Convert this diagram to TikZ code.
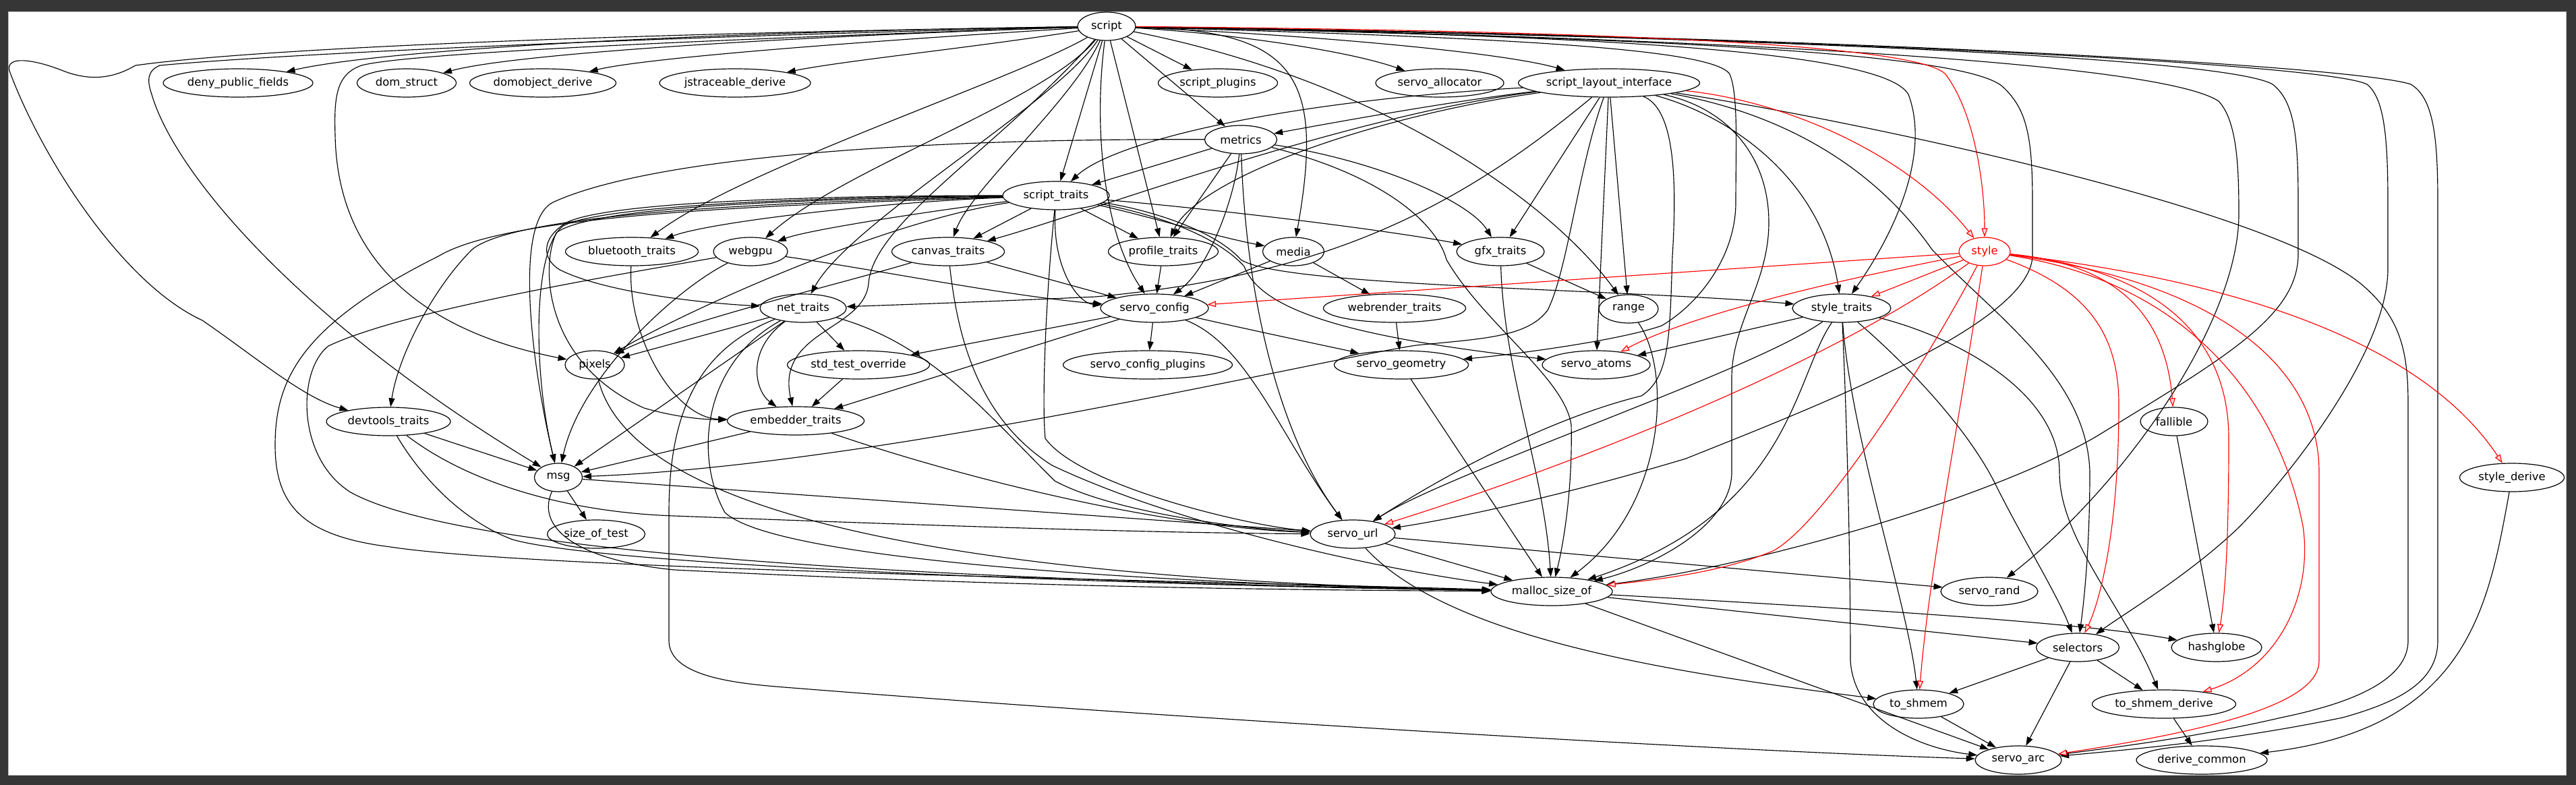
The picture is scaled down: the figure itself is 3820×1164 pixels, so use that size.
\documentclass[tikz,border=0pt]{standalone}
\usepackage{fontspec}
\setmainfont{DejaVu Sans}
\usetikzlibrary{shapes.geometric,arrows.meta}
\definecolor{framegray}{RGB}{54,54,54}
\newcommand\nodefont{\fontsize{16.4pt}{19pt}\selectfont}
\begin{document}
\begin{tikzpicture}[x=1pt,y=-1pt,
 crate/.style={draw, ellipse, line width=1.2pt, inner sep=0pt, minimum height=42pt, font=\nodefont},
 rcrate/.style={crate, draw=red, text=red},
 dep/.style={line width=1.15pt, -{Triangle[length=13pt,width=9pt]}},
 rdep/.style={draw=red, line width=1.15pt, -{Triangle[open,length=13pt,width=9pt,fill=red!15]}}]
\useasboundingbox (0,0) rectangle (3820,1164);
\fill[framegray] (0,0) rectangle (3820,1164);
\fill[white] (12,18) rectangle (3805,1149);
\draw[gray!50, line width=1pt] (12,18) rectangle (3805,1149);

% nodes
\node[crate,minimum width=86pt] (script) at (1641,39) {script};
\node[crate,minimum width=222pt] (dpf) at (353,123) {deny\_public\_fields};
\node[crate,minimum width=147pt] (ds) at (603,123) {dom\_struct};
\node[crate,minimum width=217pt] (dod) at (805,123) {domobject\_derive};
\node[crate,minimum width=224pt] (jsd) at (1090,123) {jstraceable\_derive};
\node[crate,minimum width=177pt] (splug) at (1806,123) {script\_plugins};
\node[crate,minimum width=190pt] (salloc) at (2135,123) {servo\_allocator};
\node[crate,minimum width=269pt] (sli) at (2386,123) {script\_layout\_interface};
\node[crate,minimum width=107pt] (metrics) at (1840,207) {metrics};
\node[crate,minimum width=158pt] (st) at (1566,290) {script\_traits};
\node[crate,minimum width=197pt] (bt) at (937,373) {bluetooth\_traits};
\node[crate,minimum width=110pt] (webgpu) at (1113,373) {webgpu};
\node[crate,minimum width=167pt] (canvas) at (1406,373) {canvas\_traits};
\node[crate,minimum width=163pt] (prof) at (1725,373) {profile\_traits};
\node[crate,minimum width=91pt] (media) at (1918,373) {media};
\node[crate,minimum width=130pt] (gfx) at (2225,373) {gfx\_traits};
\node[rcrate,minimum width=76pt] (style) at (2943,373) {style};
\node[crate,minimum width=128pt] (net) at (1191,457) {net\_traits};
\node[crate,minimum width=160pt] (sconf) at (1712,457) {servo\_config};
\node[crate,minimum width=211pt] (wrt) at (2068,457) {webrender\_traits};
\node[crate,minimum width=88pt] (range) at (2415,458) {range};
\node[crate,minimum width=146pt] (stt) at (2731,457) {style\_traits};
\node[crate,minimum width=88pt] (pixels) at (882,541) {pixels};
\node[crate,minimum width=211pt] (sto) at (1273,541) {std\_test\_override};
\node[crate,minimum width=251pt] (scp) at (1702,541) {servo\_config\_plugins};
\node[crate,minimum width=199pt] (sgeo) at (2078,541) {servo\_geometry};
\node[crate,minimum width=160pt] (satoms) at (2367,541) {servo\_atoms};
\node[crate,minimum width=184pt] (devt) at (576,625) {devtools\_traits};
\node[crate,minimum width=203pt] (emb) at (1180,624) {embedder\_traits};
\node[crate,minimum width=100pt] (fallible) at (3224,625) {fallible};
\node[crate,minimum width=71pt] (msg) at (828,708) {msg};
\node[crate,minimum width=155pt] (sderive) at (3725,708) {style\_derive};
\node[crate,minimum width=145pt] (sot) at (884,792) {size\_of\_test};
\node[crate,minimum width=126pt] (surl) at (2006,792) {servo\_url};
\node[crate,minimum width=180pt] (malloc) at (2301,877) {malloc\_size\_of};
\node[crate,minimum width=144pt] (srand) at (2950,877) {servo\_rand};
\node[crate,minimum width=123pt] (selectors) at (3081,960) {selectors};
\node[crate,minimum width=134pt] (hashglobe) at (3287,960) {hashglobe};
\node[crate,minimum width=134pt] (toshmem) at (2845,1044) {to\_shmem};
\node[crate,minimum width=213pt] (tsd) at (3209,1044) {to\_shmem\_derive};
\node[crate,minimum width=128pt] (sarc) at (2993,1127) {servo\_arc};
\node[crate,minimum width=194pt] (dcommon) at (3265,1127) {derive\_common};

% script
\draw[dep] (script) .. controls (1000,48) and (560,75) .. (dpf);
\draw[dep] (script) .. controls (1150,55) and (760,80) .. (ds);
\draw[dep] (script) .. controls (1300,60) and (960,85) .. (dod);
\draw[dep] (script) .. controls (1450,70) and (1250,90) .. (jsd);
\draw[dep] (script) -- (splug);
\draw[dep] (script) .. controls (1800,48) and (1990,72) .. (salloc);
\draw[dep] (script) .. controls (1950,52) and (2230,78) .. (sli);
\draw[dep] (script) -- (metrics);
\draw[dep] (script) -- (st);
\draw[dep] (script) .. controls (1500,120) and (1100,250) .. (bt);
\draw[dep] (script) .. controls (1550,150) and (1250,250) .. (webgpu);
\draw[dep] (script) .. controls (1590,150) and (1440,280) .. (canvas);
\draw[dep] (script) -- (prof);
\draw[dep] (script) .. controls (1920,45) and (1965,110) .. (media);
\draw[dep] (script) .. controls (1570,150) and (1260,330) .. (net);
\draw[dep] (script) .. controls (1620,200) and (1640,350) .. (sconf);
\draw[dep] (script) .. controls (2050,120) and (2300,300) .. (range);
\draw[dep] (script) .. controls (900,50) and (380,72) .. (201,97) .. controls (175,112) and (140,124) .. (91,104) .. controls (50,88) and (8,82) .. (14,105) .. controls (60,230) and (180,420) .. (300,475) .. controls (380,530) and (450,590) .. (devt);
\draw[dep] (script) .. controls (950,55) and (420,80) .. (237,97) .. controls (218,105) and (218,120) .. (225,140) .. controls (260,260) and (450,480) .. (msg);
\draw[dep] (script) .. controls (1000,60) and (600,80) .. (536,97) .. controls (500,110) and (495,140) .. (497,200) .. controls (500,380) and (620,490) .. (pixels);
\draw[dep] (script) .. controls (1480,220) and (1295,330) .. (1288,420) .. controls (1282,490) and (1150,490) .. (emb);
\draw[dep] (script) .. controls (2300,52) and (2790,70) .. (2830,140) .. controls (2860,220) and (2820,330) .. (stt);
\draw[dep] (script) .. controls (2200,55) and (2540,70) .. (2565,110) .. controls (2578,140) and (2574,220) .. (2574,300) .. controls (2574,380) and (2520,450) .. (2464,483) .. controls (2400,505) and (2250,525) .. (sgeo);
\draw[dep] (script) .. controls (2400,55) and (2900,75) .. (2968,127) .. controls (3005,160) and (3014,200) .. (3014,300) -- (3014,380) .. controls (3010,480) and (2700,600) .. (2500,680) .. controls (2300,740) and (2150,770) .. (surl);
\draw[dep] (script) .. controls (2600,55) and (3300,85) .. (3370,125) .. controls (3402,150) and (3408,200) .. (3408,300) -- (3408,380) .. controls (3405,470) and (3300,530) .. (3109,647) .. controls (2950,740) and (2600,840) .. (malloc);
\draw[dep] (script) .. controls (2500,55) and (3200,90) .. (3290,150) .. controls (3318,180) and (3320,250) .. (3320,320) .. controls (3318,480) and (3150,720) .. (srand);
\draw[dep] (script) .. controls (2700,55) and (3450,95) .. (3510,125) .. controls (3535,145) and (3541,200) .. (3541,300) -- (3541,400) .. controls (3540,520) and (3400,700) .. (3322,780) .. controls (3250,850) and (3150,910) .. (selectors);
\draw[dep] (script) .. controls (2800,55) and (3500,100) .. (3575,125) .. controls (3608,145) and (3615,200) .. (3615,300) -- (3615,950) .. controls (3615,1010) and (3560,1040) .. (3474,1064) .. controls (3300,1100) and (3150,1112) .. (sarc);
\draw[rdep] (script) .. controls (2300,45) and (2840,62) .. (2885,110) .. controls (2930,170) and (2943,280) .. (style);

% script_layout_interface
\draw[dep] (sli) .. controls (2150,150) and (1960,185) .. (metrics);
\draw[dep] (sli) .. controls (1900,150) and (1650,210) .. (st);
\draw[dep] (sli) .. controls (2000,170) and (1600,320) .. (canvas);
\draw[dep] (sli) .. controls (2050,170) and (1780,260) .. (prof);
\draw[dep] (sli) -- (gfx);
\draw[dep] (sli) -- (range);
\draw[dep] (sli) -- (satoms);
\draw[dep] (sli) .. controls (2560,170) and (2700,260) .. (stt);
\draw[dep] (sli) .. controls (2150,320) and (1950,410) .. (1625,440) .. controls (1450,448) and (1330,452) .. (net);
\draw[dep] (sli) .. controls (2340,250) and (2325,400) .. (2295,460) .. controls (2265,500) and (2200,502) .. (2100,512) .. controls (1950,535) and (1300,690) .. (msg);
\draw[dep] (sli) .. controls (2480,160) and (2488,250) .. (2480,380) .. controls (2476,500) and (2476,560) .. (2434,587) .. controls (2300,620) and (2150,700) .. (surl);
\draw[dep] (sli) .. controls (2560,160) and (2623,230) .. (2623,330) .. controls (2623,420) and (2568,480) .. (2568,560) -- (2568,700) .. controls (2568,780) and (2450,840) .. (malloc);
\draw[dep] (sli) .. controls (2600,160) and (2760,220) .. (2865,370) .. controls (2960,470) and (3095,560) .. (3099,700) .. controls (3099,800) and (3092,880) .. (selectors);
\draw[dep] (sli) .. controls (2700,170) and (3350,300) .. (3500,420) .. controls (3560,470) and (3571,520) .. (3571,600) -- (3571,950) .. controls (3571,1020) and (3450,1050) .. (3383,1064) .. controls (3250,1095) and (3120,1110) .. (sarc);
\draw[rdep] (sli) .. controls (2650,150) and (2830,230) .. (style);

% metrics
\draw[dep] (metrics) -- (st);
\draw[dep] (metrics) -- (prof);
\draw[dep] (metrics) .. controls (2050,240) and (2180,300) .. (gfx);
\draw[dep] (metrics) .. controls (1830,300) and (1790,400) .. (sconf);
\draw[dep] (metrics) .. controls (1848,450) and (1900,650) .. (surl);
\draw[dep] (metrics) .. controls (2050,260) and (2130,330) .. (2145,385) .. controls (2200,480) and (2320,560) .. (2330,630) .. controls (2332,720) and (2320,800) .. (malloc);
\draw[dep] (metrics) .. controls (1300,205) and (950,240) .. (820,300) .. controls (760,330) and (790,550) .. (msg);

% script_traits
\draw[dep] (st) .. controls (1300,300) and (1050,330) .. (bt);
\draw[dep] (st) .. controls (1400,310) and (1200,340) .. (webgpu);
\draw[dep] (st) -- (canvas);
\draw[dep] (st) -- (prof);
\draw[dep] (st) .. controls (1700,320) and (1800,350) .. (media);
\draw[dep] (st) .. controls (1800,310) and (2050,340) .. (gfx);
\draw[dep] (st) .. controls (1200,290) and (900,300) .. (840,330) .. controls (800,355) and (805,385) .. (830,400) .. controls (900,435) and (1050,450) .. (net);
\draw[dep] (st) .. controls (1560,400) and (1600,450) .. (sconf);
\draw[dep] (st) .. controls (1300,330) and (1000,470) .. (pixels);
\draw[dep] (st) .. controls (1100,300) and (760,320) .. (700,370) .. controls (640,430) and (590,530) .. (devt);
\draw[dep] (st) .. controls (1200,292) and (890,305) .. (835,335) .. controls (790,370) and (790,550) .. (msg);
\draw[dep] (st) .. controls (1200,295) and (880,305) .. (825,345) .. controls (800,400) and (810,540) .. (955,605) .. controls (1000,618) and (1040,622) .. (emb);
\draw[dep] (st) .. controls (1700,315) and (1800,345) .. (1845,395) .. controls (1870,460) and (2000,500) .. (satoms);
\draw[dep] (st) .. controls (1700,310) and (1800,340) .. (1840,385) .. controls (1900,425) and (2400,428) .. (stt);
\draw[dep] (st) .. controls (1550,450) and (1545,600) .. (1550,650) .. controls (1600,720) and (1850,780) .. (surl);
\draw[dep] (st) .. controls (1100,305) and (750,320) .. (650,380) .. controls (450,480) and (408,560) .. (408,660) .. controls (408,750) and (450,795) .. (579,811) .. controls (800,845) and (1800,862) .. (malloc);

% other traits
\draw[dep] (bt) .. controls (930,500) and (1000,620) .. (emb);
\draw[dep] (webgpu) .. controls (1300,400) and (1500,440) .. (sconf);
\draw[dep] (webgpu) .. controls (1000,430) and (860,560) .. (msg);
\draw[dep] (webgpu) .. controls (900,410) and (600,460) .. (487,513) .. controls (440,550) and (440,680) .. (520,730) .. controls (700,830) and (1500,862) .. (malloc);
\draw[dep] (canvas) -- (sconf);
\draw[dep] (canvas) .. controls (1250,420) and (1000,480) .. (pixels);
\draw[dep] (canvas) .. controls (1420,500) and (1450,620) .. (1560,690) .. controls (1750,780) and (2050,845) .. (malloc);
\draw[dep] (prof) -- (sconf);
\draw[dep] (media) -- (sconf);
\draw[dep] (media) -- (wrt);
\draw[dep] (gfx) -- (range);
\draw[dep] (gfx) .. controls (2230,550) and (2290,700) .. (malloc);
\draw[dep] (wrt) -- (sgeo);
\draw[dep] (range) .. controls (2480,550) and (2470,750) .. (malloc);

% net_traits
\draw[dep] (net) -- (sto);
\draw[dep] (net) .. controls (1105,520) and (1120,580) .. (emb);
\draw[dep] (net) -- (msg);
\draw[dep] (net) -- (pixels);
\draw[dep] (net) .. controls (1380,510) and (1460,610) .. (1564,713) .. controls (1650,760) and (1850,785) .. (surl);
\draw[dep] (net) .. controls (1040,540) and (1030,680) .. (1075,760) .. controls (1150,830) and (1700,865) .. (malloc);
\draw[dep] (net) .. controls (1030,520) and (992,620) .. (992,760) -- (992,950) .. controls (992,1000) and (1080,1012) .. (1150,1018) .. controls (1800,1070) and (2600,1115) .. (sarc);

% servo_config
\draw[dep] (sconf) -- (scp);
\draw[dep] (sconf) -- (sto);
\draw[dep] (sconf) -- (emb);
\draw[dep] (sconf) .. controls (1880,495) and (2000,520) .. (sgeo);
\draw[dep] (sconf) .. controls (1850,510) and (1900,650) .. (surl);

% style_traits
\draw[dep] (stt) -- (satoms);
\draw[dep] (stt) .. controls (2600,550) and (2150,700) .. (surl);
\draw[dep] (stt) .. controls (2660,560) and (2656,760) .. (malloc);
\draw[dep] (stt) .. controls (2850,560) and (2926,650) .. (2960,720) .. controls (3000,800) and (3050,880) .. (selectors);
\draw[dep] (stt) .. controls (2900,500) and (3054,580) .. (3054,700) .. controls (3054,800) and (3150,900) .. (tsd);
\draw[dep] (stt) .. controls (2745,650) and (2830,900) .. (toshmem);
\draw[dep] (stt) .. controls (2740,650) and (2744,850) .. (2744,980) .. controls (2750,1070) and (2850,1110) .. (sarc);

% lower crates
\draw[dep] (pixels) .. controls (940,780) and (1500,860) .. (malloc);
\draw[dep] (sto) -- (emb);
\draw[dep] (sgeo) -- (malloc);
\draw[dep] (devt) -- (msg);
\draw[dep] (devt) .. controls (700,720) and (850,760) .. (1000,765) .. controls (1400,780) and (1700,790) .. (surl);
\draw[dep] (devt) .. controls (620,700) and (680,770) .. (760,800) .. controls (900,840) and (1700,868) .. (malloc);
\draw[dep] (emb) -- (msg);
\draw[dep] (emb) .. controls (1400,700) and (1700,780) .. (surl);
\draw[dep] (msg) -- (sot);
\draw[dep] (msg) -- (surl);
\draw[dep] (msg) .. controls (795,780) and (850,830) .. (1000,845) .. controls (1500,870) and (1900,875) .. (malloc);
\draw[dep] (fallible) -- (hashglobe);
\draw[dep] (sderive) .. controls (3690,900) and (3660,1080) .. (dcommon);
\draw[dep] (surl) -- (malloc);
\draw[dep] (surl) -- (srand);
\draw[dep] (surl) .. controls (2150,950) and (2500,1000) .. (toshmem);
\draw[dep] (malloc) -- (selectors);
\draw[dep] (malloc) .. controls (2800,905) and (3100,925) .. (hashglobe);
\draw[dep] (malloc) -- (sarc);
\draw[dep] (selectors) -- (toshmem);
\draw[dep] (selectors) -- (tsd);
\draw[dep] (selectors) -- (sarc);
\draw[dep] (toshmem) -- (sarc);
\draw[dep] (tsd) -- (dcommon);

% style (red)
\draw[rdep] (style) -- (sconf);
\draw[rdep] (style) .. controls (2700,420) and (2500,470) .. (satoms);
\draw[rdep] (style) -- (stt);
\draw[rdep] (style) .. controls (2700,550) and (2300,700) .. (surl);
\draw[rdep] (style) .. controls (2850,550) and (2700,780) .. (2629,817) .. controls (2550,850) and (2450,860) .. (malloc);
\draw[rdep] (style) .. controls (2910,600) and (2860,850) .. (toshmem);
\draw[rdep] (style) .. controls (3100,430) and (3142,500) .. (3142,600) .. controls (3142,800) and (3110,900) .. (selectors);
\draw[rdep] (style) .. controls (3120,390) and (3210,450) .. (fallible);
\draw[rdep] (style) .. controls (3200,400) and (3305,500) .. (3305,650) .. controls (3305,800) and (3300,880) .. (hashglobe);
\draw[rdep] (style) .. controls (3250,420) and (3380,600) .. (3415,780) .. controls (3430,880) and (3380,990) .. (tsd);
\draw[rdep] (style) .. controls (3300,420) and (3439,550) .. (3439,700) -- (3439,980) .. controls (3439,1040) and (3300,1080) .. (sarc);
\draw[rdep] (style) .. controls (3350,420) and (3600,520) .. (sderive);
\end{tikzpicture}
\end{document}
